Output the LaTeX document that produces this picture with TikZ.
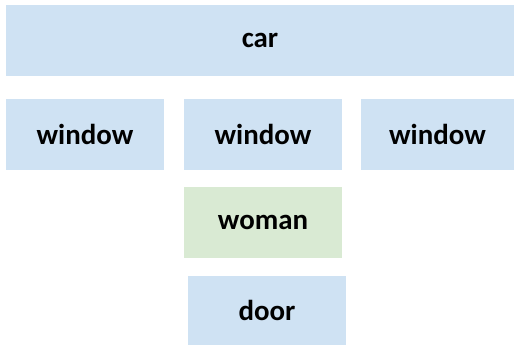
\documentclass[tikz,border=0pt]{standalone}
\usepackage{fontspec}
\setmainfont{Carlito}
\definecolor{boxblue}{RGB}{207,226,243}
\definecolor{boxgreen}{RGB}{217,234,211}
\begin{document}
\begin{tikzpicture}[x=1bp,y=1bp,
  box/.style={fill=boxblue,draw=none,inner sep=0pt,outer sep=0pt,anchor=south west,
    font=\fontsize{29}{32}\selectfont\bfseries},
  greenbox/.style={box,fill=boxgreen}]
\useasboundingbox (0,0) rectangle (514,345);
\node[box,minimum width=508bp,minimum height=70.7bp] (car) at (6,269.3) {car};
\node[box,minimum width=158bp,minimum height=70.7bp] (w1) at (6,175.3) {window};
\node[box,minimum width=158bp,minimum height=70.7bp] (w2) at (184,175.3) {window};
\node[box,minimum width=153bp,minimum height=70.7bp] (w3) at (361,175.3) {window};
\node[greenbox,minimum width=158bp,minimum height=71bp] (woman) at (184,87.3) {woman};
\node[box,minimum width=158bp,minimum height=69bp] (door) at (188,0) {door};
\end{tikzpicture}
\end{document}
